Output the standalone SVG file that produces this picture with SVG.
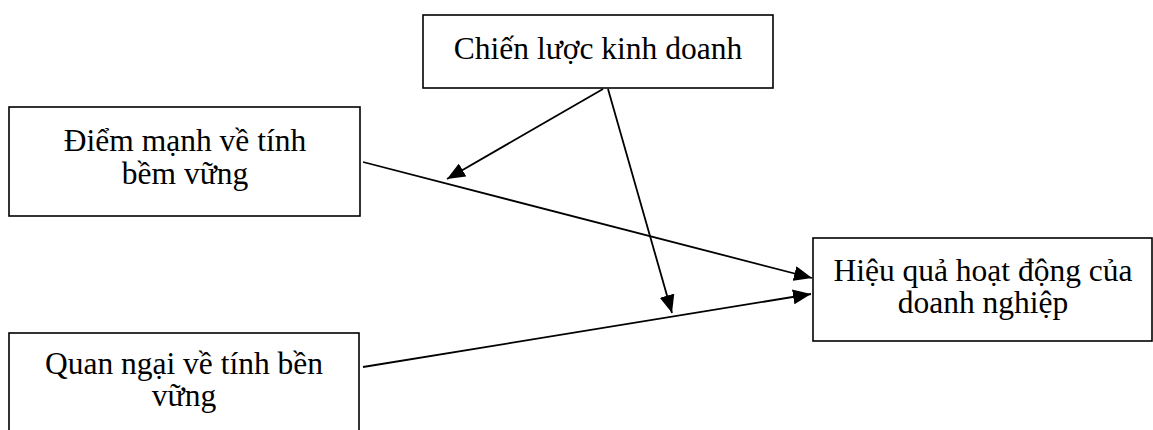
<svg xmlns="http://www.w3.org/2000/svg" width="1153" height="430" viewBox="0 0 1153 430">
<style>
.box{fill:#fff;stroke:#000;stroke-width:1.6}
.t{font-family:"Liberation Serif","Times New Roman",serif;font-size:31.5px;fill:#000;text-anchor:middle}
.c{stroke:#000;stroke-width:1.8;fill:none;marker-end:url(#ah)}
</style>
<defs>
<marker id="ah" markerUnits="userSpaceOnUse" markerWidth="19" markerHeight="15" refX="18" refY="7.5" orient="auto">
<path d="M0,0 L18,7.5 L0,15 Z" fill="#000"/>
</marker>
</defs>
<rect width="1153" height="430" fill="#fff"/>
<g id="connectors">
<line class="c" x1="363" y1="162" x2="812" y2="278"/>
<line class="c" x1="363" y1="367" x2="811" y2="294"/>
<line class="c" x1="608" y1="89" x2="672" y2="313"/>
<line class="c" x1="603" y1="89" x2="447" y2="179"/>
</g>
<g id="n-chienluoc">
<rect class="box" x="423" y="15" width="350" height="73"/>
<text class="t" x="598" y="59">Chiến lược kinh doanh</text>
</g>
<g id="n-diemmanh">
<rect class="box" x="9" y="107" width="351" height="109"/>
<text class="t" x="185" y="151">Điểm mạnh về tính</text>
<text class="t" x="185" y="184">bềm vững</text>
</g>
<g id="n-quanngai">
<rect class="box" x="9" y="333" width="350" height="110"/>
<text class="t" x="184" y="374">Quan ngại về tính bền</text>
<text class="t" x="184" y="406">vững</text>
</g>
<g id="n-hieuqua">
<rect class="box" x="813" y="238" width="339" height="103"/>
<text class="t" x="983" y="281">Hiệu quả hoạt động của</text>
<text class="t" x="983" y="313">doanh nghiệp</text>
</g>
</svg>
